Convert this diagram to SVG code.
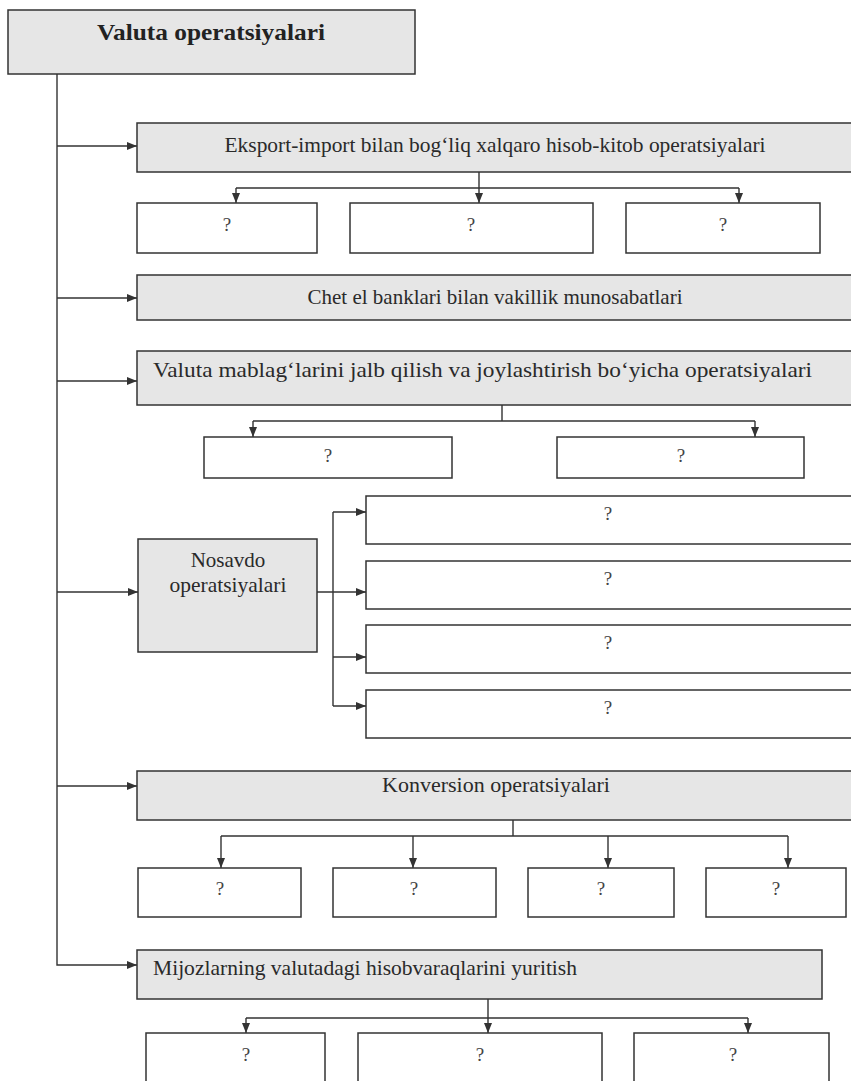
<svg xmlns="http://www.w3.org/2000/svg" width="851" height="1081" viewBox="0 0 851 1081">
<defs>
<marker id="ah" markerUnits="userSpaceOnUse" markerWidth="10" markerHeight="8" refX="10" refY="4" orient="auto">
<path d="M0,0 L10,4 L0,8 z" fill="#333"/>
</marker>
<style>
.bg{fill:#ffffff}
.main{fill:#e6e6e6;stroke:#333;stroke-width:1.5}
.sub{fill:#ffffff;stroke:#333;stroke-width:1.5}
.c{fill:none;stroke:#333;stroke-width:1.4}
.a{fill:none;stroke:#333;stroke-width:1.4;marker-end:url(#ah)}
.t{font-family:"Liberation Serif","Times New Roman",serif;font-size:21px;fill:#2a2a2a}
.tc{text-anchor:middle}
.q{font-family:"Liberation Serif","Times New Roman",serif;font-size:19px;fill:#444;text-anchor:middle}
.title{font-family:"Liberation Serif","Times New Roman",serif;font-size:23px;font-weight:bold;fill:#222;text-anchor:middle}
</style>
</defs>
<rect class="bg" x="0" y="0" width="851" height="1081"/>

<g id="connectors">
<path class="a" d="M57,74 V965 H137"/>
<path class="a" d="M57,146 H137"/>
<path class="a" d="M57,298 H137"/>
<path class="a" d="M57,381 H137"/>
<path class="a" d="M57,592 H138"/>
<path class="a" d="M57,786 H137"/>

<path class="c" d="M479,172 V188 M236,188 H739"/>
<path class="a" d="M236,188 V203"/>
<path class="a" d="M479,188 V203"/>
<path class="a" d="M739,188 V203"/>

<path class="c" d="M502,405 V421 M253,421 H755"/>
<path class="a" d="M253,421 V437"/>
<path class="a" d="M755,421 V437"/>

<path class="c" d="M333,512 V706"/>
<path class="a" d="M317,592 H366"/>
<path class="a" d="M333,512 H366"/>
<path class="a" d="M333,657 H366"/>
<path class="a" d="M333,706 H366"/>

<path class="c" d="M513,820 V836 M221,836 H788"/>
<path class="a" d="M221,836 V868"/>
<path class="a" d="M413,836 V868"/>
<path class="a" d="M608,836 V868"/>
<path class="a" d="M788,836 V868"/>

<path class="c" d="M488,999 V1018 M246,1018 H748"/>
<path class="a" d="M246,1018 V1033"/>
<path class="a" d="M488,1018 V1033"/>
<path class="a" d="M748,1018 V1033"/>
</g>

<g id="n-title">
<rect class="main" x="8" y="10" width="407" height="64"/>
<text class="title" x="211" y="40" textLength="228" lengthAdjust="spacingAndGlyphs">Valuta operatsiyalari</text>
</g>

<g id="n-eksport">
<rect class="main" x="137" y="123" width="720" height="49"/>
<text class="t tc" x="495" y="152" textLength="541" lengthAdjust="spacingAndGlyphs">Eksport-import bilan bog‘liq xalqaro hisob-kitob operatsiyalari</text>
</g>
<g id="n-eksport-1"><rect class="sub" x="137" y="203" width="180" height="50"/><text class="q" x="227" y="231">?</text></g>
<g id="n-eksport-2"><rect class="sub" x="350" y="203" width="243" height="50"/><text class="q" x="471" y="231">?</text></g>
<g id="n-eksport-3"><rect class="sub" x="626" y="203" width="194" height="50"/><text class="q" x="723" y="231">?</text></g>

<g id="n-chet">
<rect class="main" x="137" y="275" width="720" height="45"/>
<text class="t tc" x="495" y="304" textLength="375" lengthAdjust="spacingAndGlyphs">Chet el banklari bilan vakillik munosabatlari</text>
</g>

<g id="n-valuta">
<rect class="main" x="137" y="351" width="720" height="54"/>
<text class="t" x="153" y="377" textLength="659" lengthAdjust="spacingAndGlyphs">Valuta mablag‘larini jalb qilish va joylashtirish bo‘yicha operatsiyalari</text>
</g>
<g id="n-valuta-1"><rect class="sub" x="204" y="437" width="248" height="41"/><text class="q" x="328" y="462">?</text></g>
<g id="n-valuta-2"><rect class="sub" x="557" y="437" width="247" height="41"/><text class="q" x="681" y="462">?</text></g>

<g id="n-nosavdo">
<rect class="main" x="138" y="539" width="179" height="113"/>
<text class="t tc" x="228" y="567">Nosavdo</text>
<text class="t tc" x="228" y="592" textLength="117" lengthAdjust="spacingAndGlyphs">operatsiyalari</text>
</g>
<g id="n-nosavdo-1"><rect class="sub" x="366" y="496" width="490" height="48"/><text class="q" x="608" y="520">?</text></g>
<g id="n-nosavdo-2"><rect class="sub" x="366" y="561" width="490" height="48"/><text class="q" x="608" y="585">?</text></g>
<g id="n-nosavdo-3"><rect class="sub" x="366" y="625" width="490" height="48"/><text class="q" x="608" y="649">?</text></g>
<g id="n-nosavdo-4"><rect class="sub" x="366" y="690" width="490" height="48"/><text class="q" x="608" y="714">?</text></g>

<g id="n-konversion">
<rect class="main" x="137" y="771" width="720" height="49"/>
<text class="t tc" x="496" y="792" textLength="228" lengthAdjust="spacingAndGlyphs">Konversion operatsiyalari</text>
</g>
<g id="n-konversion-1"><rect class="sub" x="138" y="868" width="163" height="49"/><text class="q" x="220" y="895">?</text></g>
<g id="n-konversion-2"><rect class="sub" x="333" y="868" width="163" height="49"/><text class="q" x="414" y="895">?</text></g>
<g id="n-konversion-3"><rect class="sub" x="528" y="868" width="146" height="49"/><text class="q" x="601" y="895">?</text></g>
<g id="n-konversion-4"><rect class="sub" x="706" y="868" width="140" height="49"/><text class="q" x="776" y="895">?</text></g>

<g id="n-mijoz">
<rect class="main" x="137" y="950" width="685" height="49"/>
<text class="t" x="153" y="975" textLength="424" lengthAdjust="spacingAndGlyphs">Mijozlarning valutadagi hisobvaraqlarini yuritish</text>
</g>
<g id="n-mijoz-1"><rect class="sub" x="146" y="1033" width="179" height="60"/><text class="q" x="246" y="1061">?</text></g>
<g id="n-mijoz-2"><rect class="sub" x="358" y="1033" width="244" height="60"/><text class="q" x="480" y="1061">?</text></g>
<g id="n-mijoz-3"><rect class="sub" x="634" y="1033" width="195" height="60"/><text class="q" x="733" y="1061">?</text></g>
</svg>
